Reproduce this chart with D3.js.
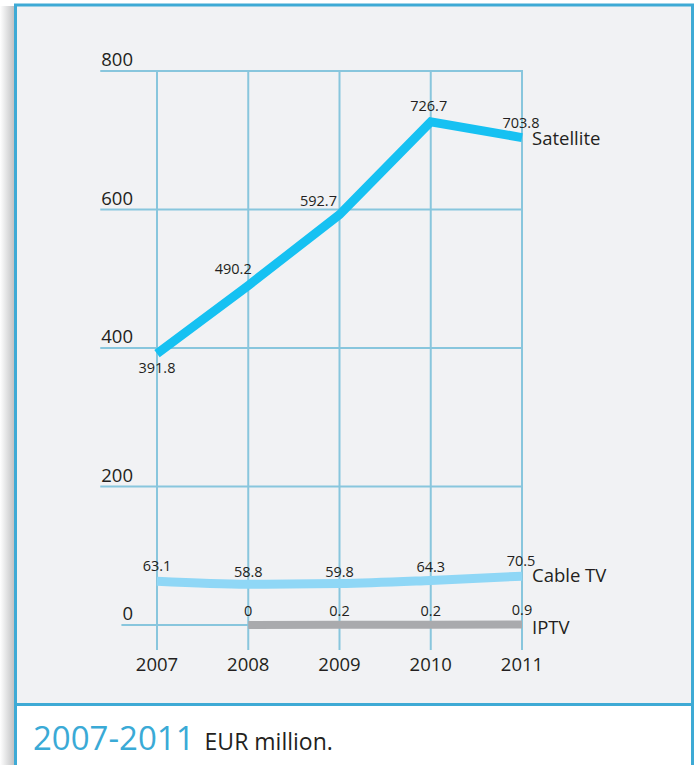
<!DOCTYPE html>
<html>
<head>
<meta charset="utf-8">
<script src="https://cdn.jsdelivr.net/npm/d3@7"></script>
<style>
html,body{margin:0;padding:0;background:#fff;}
svg{display:block;}
text{font-family:"Open Sans",sans-serif;fill:#231f20;}
</style>
</head>
<body>
<svg id="chart" width="697" height="765"></svg>
<script>
const years = ["2007","2008","2009","2010","2011"];
const yTicks = [0,200,400,600,800];
const satellite = [391.8,490.2,592.7,726.7,703.8];
const cableTV = [63.1,58.8,59.8,64.3,70.5];
const iptv = [null,0,0.2,0.2,0.9];
const iptvLabels = ["","0","0.2","0.2","0.9"];
const seriesNames = ["Satellite","Cable TV","IPTV"];
const captionYears = "2007-2011";
const captionUnit = "EUR million.";

const svg = d3.select("#chart");
const W = 697, H = 765;

// frame
const defs = svg.append("defs");
const g1 = defs.append("linearGradient").attr("id","shadow").attr("x1","0").attr("x2","1");
g1.append("stop").attr("offset","0").attr("stop-color","#ffffff");
g1.append("stop").attr("offset","1").attr("stop-color","#bdbec0");
svg.append("rect").attr("x",0).attr("y",6).attr("width",15).attr("height",H).attr("fill","url(#shadow)");
svg.append("rect").attr("x",15).attr("y",4).attr("width",678).attr("height",700).attr("fill","#f1f2f4");
svg.append("rect").attr("x",15).attr("y",704).attr("width",678).attr("height",70).attr("fill","#ffffff");
const frameColor = "#3eaad5";
svg.append("path").attr("d",`M15.5,${H+5} V5 H692.5 V${H+5}`).attr("fill","none").attr("stroke",frameColor).attr("stroke-width",3);
svg.append("line").attr("x1",15).attr("x2",693).attr("y1",704.5).attr("y2",704.5).attr("stroke",frameColor).attr("stroke-width",3);

const x = d3.scalePoint().domain(years).range([157,522]);
const y = d3.scaleLinear().domain([0,800]).range([625,71]);
const gridColor = "#88c6dd";

// y labels and horizontal grid
const yg = svg.append("g");
yTicks.forEach(t => {
  const txt = yg.append("text").attr("x",133).attr("y",y(t)-5).attr("text-anchor","end")
    .style("font-size","18.5px").text(t);
  const w = txt.node().getComputedTextLength();
  yg.append("line").attr("x1",133-w-1).attr("x2",x("2011")+1).attr("y1",y(t)).attr("y2",y(t))
    .attr("stroke",gridColor).attr("stroke-width",2);
});
// vertical grid
years.forEach(yr => {
  svg.append("line").attr("x1",x(yr)).attr("x2",x(yr)).attr("y1",y(800)-1).attr("y2",650)
    .attr("stroke",gridColor).attr("stroke-width",2);
  svg.append("text").attr("x",x(yr)).attr("y",671).attr("text-anchor","middle")
    .style("font-size","18.5px").text(yr);
});

// lines
const linePlain = d3.line().defined(d=>d.v!==null).x(d=>x(d.k)).y(d=>y(d.v));
const lineSmooth = d3.line().defined(d=>d.v!==null).x(d=>x(d.k)).y(d=>y(d.v)).curve(d3.curveMonotoneX);
const toPts = arr => arr.map((v,i)=>({k:years[i],v:v}));

svg.append("path").attr("d",linePlain(toPts(iptv))).attr("fill","none")
  .attr("stroke","#a9aaad").attr("stroke-width",8).attr("stroke-linecap","butt");
svg.append("path").attr("d",lineSmooth(toPts(cableTV))).attr("fill","none")
  .attr("stroke","#8fd7f6").attr("stroke-width",9).attr("stroke-linecap","butt");
svg.append("path").attr("d",linePlain(toPts(satellite))).attr("fill","none")
  .attr("stroke","#16c1f2").attr("stroke-width",9).attr("stroke-linecap","butt").attr("stroke-linejoin","miter");

// data labels
const lblSize = "14.5px";
const satDx = [0,-15,-21,-2,-1];
const satDy = [14,-17,-14,-16,-15];
satellite.forEach((v,i)=>{
  svg.append("text").attr("x",x(years[i])+satDx[i]).attr("y",y(v)+satDy[i]).attr("text-anchor","middle")
    .attr("dy","0.35em").style("font-size",lblSize).text(v.toFixed(1));
});
const cabDy = [-15,-12,-12,-14,-15];
cableTV.forEach((v,i)=>{
  svg.append("text").attr("x",x(years[i])+(i===4?-1:0)).attr("y",y(v)+cabDy[i]).attr("text-anchor","middle")
    .attr("dy","0.35em").style("font-size",lblSize).text(v.toFixed(1));
});
iptv.forEach((v,i)=>{
  if(v===null) return;
  svg.append("text").attr("x",x(years[i])).attr("y",y(v)-14).attr("text-anchor","middle")
    .attr("dy","0.35em").style("font-size",lblSize).text(iptvLabels[i]);
});

// series names
[[satellite,145],[cableTV,582],[iptv,634]].forEach((s,i)=>{
  svg.append("text").attr("x",532).attr("y",s[1]).style("font-size","18.5px").text(seriesNames[i]);
});

// caption
const cap = svg.append("text").attr("x",33).attr("y",750);
cap.append("tspan").style("font-size","33px").style("fill","#3aaad6").text(captionYears);
cap.append("tspan").attr("dx",10).style("font-size","23px").style("fill","#231f20").text(captionUnit);
</script>
</body>
</html>
